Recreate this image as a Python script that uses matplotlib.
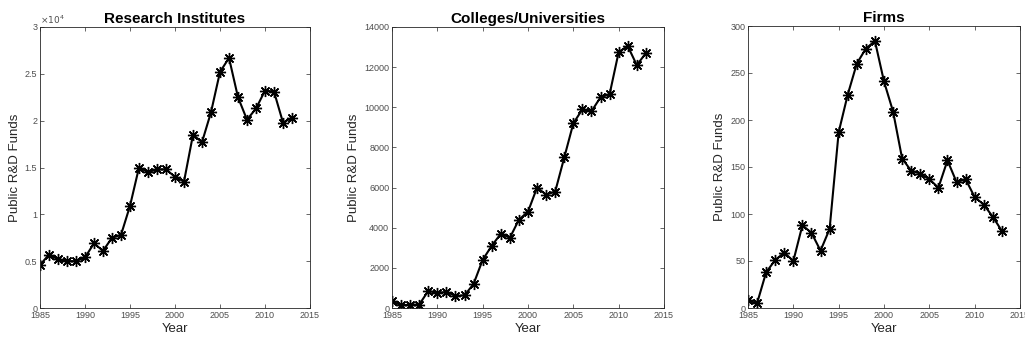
import matplotlib
matplotlib.use("Agg")
import matplotlib.pyplot as plt
from matplotlib.ticker import FuncFormatter

plt.rcParams["font.family"] = ["Liberation Sans", "DejaVu Sans"]

years = list(range(1985, 2014))

research_institutes = [4600, 5700, 5200, 5000, 5000, 5400, 6900, 6100, 7500, 7800,
                       10900, 15000, 14500, 14800, 14800, 14000, 13500, 18500, 17700,
                       20900, 25200, 26700, 22500, 20100, 21300, 23200, 23100, 19800, 20300]
colleges = [350, 130, 170, 170, 850, 750, 800, 600, 630, 1200,
            2400, 3100, 3700, 3500, 4400, 4800, 6000, 5650, 5800, 7500,
            9200, 9900, 9800, 10500, 10650, 12750, 13050, 12100, 12700]
firms = [8, 5, 38, 51, 59, 50, 88, 80, 61, 84,
         187, 227, 260, 276, 284, 241, 209, 159, 146, 143,
         137, 128, 157, 134, 137, 118, 110, 97, 82]

titles = ["Research Institutes", "Colleges/Universities", "Firms"]
series = [research_institutes, colleges, firms]
y_ticks = [
    [0, 5000, 10000, 15000, 20000, 25000, 30000],
    [0, 2000, 4000, 6000, 8000, 10000, 12000, 14000],
    [0, 50, 100, 150, 200, 250, 300],
]
x_ticks = [1985, 1990, 1995, 2000, 2005, 2010, 2015]

fig = plt.figure(figsize=(10.25, 3.42), dpi=100)
# axes positions in figure fractions (left, bottom, width, height)
positions = [
    (40 / 1025, 34 / 342, 270 / 1025, 281 / 342),
    (392 / 1025, 34 / 342, 272 / 1025, 281 / 342),
    (748 / 1025, 34 / 342, 272 / 1025, 282 / 342),
]

axis_gray = "#262626"
tick_gray = "#4d4d4d"

for i, (title, values, yt) in enumerate(zip(titles, series, y_ticks)):
    ax = fig.add_axes(positions[i])
    ax.plot(years, values, color="black", linewidth=1.5,
            marker=(8, 2, 0), markersize=8, markeredgewidth=1.0)
    ax.set_xlim(1985, 2015)
    ax.set_ylim(yt[0], yt[-1])
    ax.set_xticks(x_ticks)
    ax.set_yticks(yt)
    if i == 0:
        ax.yaxis.set_major_formatter(FuncFormatter(lambda v, _: f"{v / 1e4:g}"))
        ax.text(0.0, 1.005, r"$\times10^4$", transform=ax.transAxes,
                fontsize=6.5, color=tick_gray, ha="left", va="bottom")
    ax.tick_params(direction="in", top=True, right=True, length=3,
                   width=0.6, labelsize=6.5, colors=tick_gray, pad=2)
    for sp in ax.spines.values():
        sp.set_color(axis_gray)
        sp.set_linewidth(0.6)
    ax.set_title(title, fontsize=11, fontweight="bold", pad=3)
    ax.set_xlabel("Year", fontsize=9.5, color=axis_gray, labelpad=2)
    ax.set_ylabel("Public R&D Funds", fontsize=9.5, color=axis_gray, labelpad=3)

fig.savefig("out.png", dpi=100)
